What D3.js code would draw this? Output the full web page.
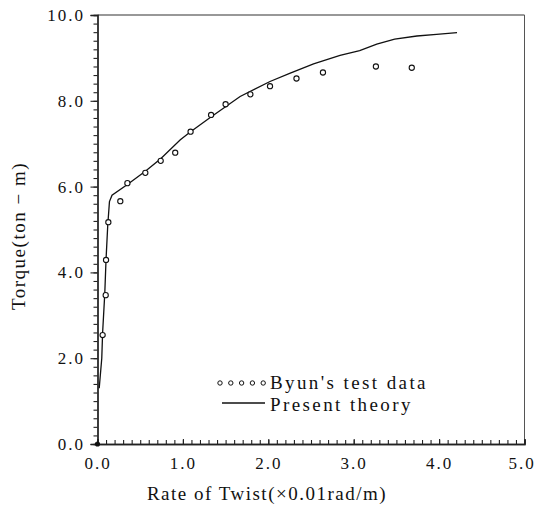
<!DOCTYPE html>
<html><head>
<meta charset="utf-8">
<script src="https://d3js.org/d3.v7.min.js"></script>
<style>
  body { margin: 0; background: white; }
</style>
</head>
<body>
<svg width="536" height="509"></svg>
<script>

// data
let testX = [0.0, 0.06, 0.096, 0.10, 0.127, 0.267, 0.35, 0.56, 0.74, 0.91, 1.09, 1.33, 1.50, 1.79, 2.02, 2.33, 2.64, 3.26, 3.68];
let testY = [0.0, 2.54, 3.47, 4.29, 5.17, 5.66, 6.08, 6.32, 6.60, 6.79, 7.28, 7.67, 7.92, 8.15, 8.34, 8.52, 8.66, 8.80, 8.77];

let theoryX = [0.02, 0.05, 0.06, 0.085, 0.10, 0.12, 0.14, 0.17, 0.35, 0.56, 0.74, 0.97, 1.09, 1.32, 1.67, 2.02, 2.25, 2.53, 2.84, 3.07, 3.27, 3.48, 3.74, 3.97, 4.21];
let theoryY = [1.30, 2.00, 2.60, 3.50, 4.30, 5.10, 5.65, 5.80, 6.05, 6.36, 6.65, 7.09, 7.28, 7.61, 8.10, 8.45, 8.64, 8.86, 9.06, 9.17, 9.32, 9.44, 9.51, 9.55, 9.59];

let xTicks = [0, 1, 2, 3, 4, 5];
let yTicks = [0, 2, 4, 6, 8, 10];
let legendNames = ["Byun's test data", "Present theory"];

let serif = "'Liberation Serif', 'Times New Roman', serif";
let svg = d3.select("svg");

let x = d3.scaleLinear().domain([0, 5]).range([97.5, 524.5]);
let y = d3.scaleLinear().domain([0, 10]).range([444, 15]);

// frame: top and right edges
svg.append("line")
    .attr("x1", x(0)).attr("x2", x(5))
    .attr("y1", y(10)).attr("y2", y(10))
    .attr("stroke", "#333").attr("stroke-width", 1.2);
svg.append("line")
    .attr("x1", x(5)).attr("x2", x(5))
    .attr("y1", y(10)).attr("y2", y(0))
    .attr("stroke", "#555").attr("stroke-width", 1);

// y axis, minor ticks then labelled ones
let yMinor = svg.append("g").attr("transform", "translate(" + x(0) + ",0)")
    .call(d3.axisLeft(y).tickValues(d3.range(0, 10.01, 0.2)).tickSize(4).tickFormat(""));
let yAxis = svg.append("g").attr("transform", "translate(" + x(0) + ",0)")
    .call(d3.axisLeft(y).tickValues(yTicks).tickSize(7).tickPadding(5.5).tickFormat(d3.format(".1f")));

// x axis, ticks point up into the plot
let xMinor = svg.append("g").attr("transform", "translate(0," + y(0) + ")")
    .call(d3.axisBottom(x).tickValues(d3.range(0, 5.01, 0.1)).tickSize(-4).tickFormat(""));
let xAxis = svg.append("g").attr("transform", "translate(0," + y(0) + ")")
    .call(d3.axisBottom(x).tickValues(xTicks).tickSize(-5).tickPadding(13).tickFormat(d3.format(".1f")));

[yMinor, yAxis, xMinor, xAxis].forEach(function(g) {
  g.select(".domain").attr("stroke", "#222").attr("stroke-width", 1.3);
  g.selectAll(".tick line").attr("stroke", "#222").attr("stroke-width", 1.1);
});
[yAxis, xAxis].forEach(function(g) {
  g.attr("font-family", null);
  g.selectAll("text")
      .style("font-family", serif)
      .style("font-size", "17px")
      .style("letter-spacing", "2px")
      .attr("fill", "#111");
});
// last label sits against the right edge
xAxis.selectAll(".tick text").filter(d => d == 5).attr("dx", -3);

// axis titles
svg.append("text")
    .attr("x", 267).attr("y", 500)
    .attr("text-anchor", "middle")
    .style("font-family", serif)
    .style("font-size", "19px")
    .style("letter-spacing", "1.5px")
    .attr("fill", "#111")
    .text("Rate of Twist(\u00d70.01rad/m)");
svg.append("text")
    .attr("transform", "translate(25,236) rotate(-90)")
    .attr("text-anchor", "middle")
    .style("font-family", serif)
    .style("font-size", "19px")
    .style("letter-spacing", "1.5px")
    .attr("fill", "#111")
    .text("Torque(ton \u2212 m)");

// theory curve
let theory = theoryX.map(function(d, i) { return [d, theoryY[i]]; });
svg.append("path")
    .datum(theory)
    .attr("fill", "none")
    .attr("stroke", "#111")
    .attr("stroke-width", 1.3)
    .attr("d", d3.line().x(d => x(d[0])).y(d => y(d[1])));

// test data
let tests = testX.map(function(d, i) { return [d, testY[i]]; });
svg.selectAll("circle.test")
    .data(tests)
    .enter().append("circle")
    .attr("class", "test")
    .attr("cx", d => x(d[0]))
    .attr("cy", d => y(d[1]))
    .attr("r", d => d[1] == 0 ? 2 : 2.6)
    .attr("fill", d => d[1] == 0 ? "#111" : "white")
    .attr("stroke", "#111")
    .attr("stroke-width", 1.1);

// legend
let legend = svg.append("g").attr("transform", "translate(220,383)");
legend.selectAll("circle")
    .data(d3.range(5))
    .enter().append("circle")
    .attr("cx", d => d * 10.8)
    .attr("cy", 0)
    .attr("r", 2.2)
    .attr("fill", "white")
    .attr("stroke", "#111")
    .attr("stroke-width", 1);
legend.append("line")
    .attr("x1", 2).attr("x2", 45)
    .attr("y1", 20).attr("y2", 20)
    .attr("stroke", "#111").attr("stroke-width", 1.3);
legend.selectAll("text")
    .data(legendNames)
    .enter().append("text")
    .attr("x", 50)
    .attr("y", (d, i) => 6 + i * 22)
    .style("font-family", serif)
    .style("font-size", "19px")
    .style("letter-spacing", "2.4px")
    .attr("fill", "#111")
    .text(d => d);

</script>
</body>
</html>
